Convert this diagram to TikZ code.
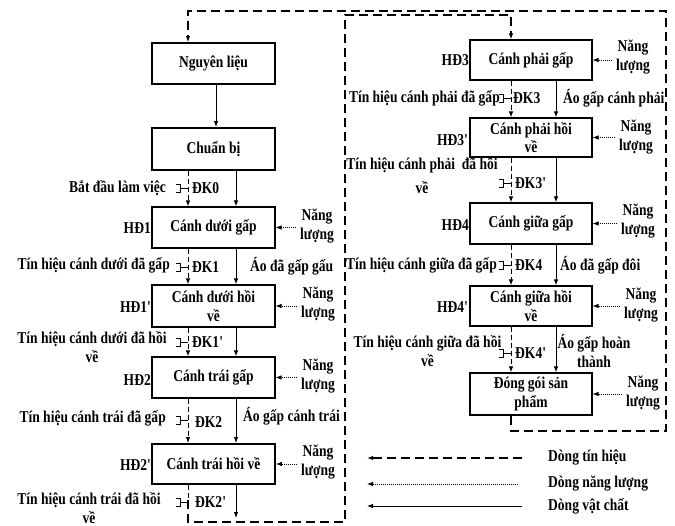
\documentclass[tikz,border=0pt]{standalone}
\usepackage{fontspec}
\setmainfont{Liberation Serif}[FakeStretch=0.82]
\usetikzlibrary{arrows.meta}
\newcommand{\pr}{\textquotesingle}
\tikzset{
  lbl/.style={font=\fontsize{16.5}{18.5}\selectfont\bfseries, inner sep=0pt, align=center},
  box/.style={lbl, draw, line width=1.1pt, minimum width=123pt, minimum height=41pt},
  heavybox/.style={box, line width=1.8pt},
  rbox/.style={box, minimum width=122pt},
  tip/.style={-{Latex[length=6pt,width=4.5pt]}},
  matflow/.style={tip, line width=1pt},
  sigflow/.style={tip, line width=1pt, dash pattern=on 5pt off 3pt},
  loopflow/.style={tip, line width=1.1pt, dash pattern=on 9pt off 5pt},
  enflow/.style={tip, line width=0.8pt, dash pattern=on 1pt off 1pt},
  contact/.pic={\draw[line width=0.9pt] (-12,-4) -- (-8,-4) -- (-8,4) -- (-12,4) (-8,0) -- (0,0);}
}
\begin{document}
\begin{tikzpicture}[x=1pt,y=-1pt]
\path[fill=white] (0,0) rectangle (675,526);

% ---------- left column ----------
\node[heavybox] (nl) at (213.5,63.5) {Nguyên liệu};
\node[heavybox, minimum height=42pt] (cb) at (213.5,149) {Chuẩn bị};
\node[box] (b1) at (213.5,227.5) {Cánh dưới gấp};
\node[box, minimum height=42pt] (b1r) at (213.5,306) {Cánh dưới hồi\\về};
\node[box] (b2) at (213.5,377.5) {Cánh trái gấp};
\node[heavybox, minimum height=40pt] (b2r) at (213.5,464) {Cánh trái hồi về};

% ---------- right column ----------
\node[rbox, minimum height=40pt] (r3) at (531,60) {Cánh phải gấp};
\node[rbox, minimum height=39pt] (r3r) at (531,137.5) {Cánh phải hồi\\về};
\node[rbox] (r4) at (531,223.5) {Cánh giữa gấp};
\node[rbox, minimum height=40pt] (r4r) at (531,306) {Cánh giữa hồi\\về};
\node[rbox, minimum height=42pt] (pk) at (531,394) {Đóng gói sản\\phẩm};

% ---------- step names ----------
\node[lbl, anchor=east] (h1) at (151,228) {HĐ1};
\node[lbl, anchor=east] (h1r) at (152,307) {HĐ1\pr};
\node[lbl, anchor=east] (h2) at (151,380) {HĐ2};
\node[lbl, anchor=east] (h2r) at (152,465) {HĐ2\pr};
\node[lbl, anchor=east] (h3) at (469,60) {HĐ3};
\node[lbl, anchor=east] (h3r) at (469,140) {HĐ3\pr};
\node[lbl, anchor=east] (h4) at (469,225) {HĐ4};
\node[lbl, anchor=east] (h4r) at (469,307) {HĐ4\pr};

% ---------- energy inputs ----------
\node[lbl] (e1) at (317,226) {Năng\\lượng};
\node[lbl] (e1r) at (318,304) {Năng\\lượng};
\node[lbl] (e2) at (318,376) {Năng\\lượng};
\node[lbl] (e2r) at (318,462) {Năng\\lượng};
\node[lbl] (e3) at (633,57) {Năng\\lượng};
\node[lbl] (e3r) at (636,137) {Năng\\lượng};
\node[lbl] (e4) at (638,221) {Năng\\lượng};
\node[lbl] (e4r) at (641,305) {Năng\\lượng};
\node[lbl] (ep) at (643,393) {Năng\\lượng};
\foreach \e/\b in {e1/b1,e1r/b1r,e2/b2,e2r/b2r,e3/r3,e3r/r3r,e4/r4,e4r/r4r,ep/pk}
  \draw[enflow] ([xshift=-4pt]\e.west |- \b.east) -- (\b.east);

% ---------- material flow ----------
\draw[matflow] ([xshift=2.5pt]nl.south) -- ([xshift=2.5pt]cb.north);
\foreach \a/\b in {cb/b1,b1/b1r,b1r/b2,b2/b2r}
  \draw[matflow] ([xshift=22.5pt]\a.south) -- ([xshift=22.5pt]\b.north);
\coordinate (matend) at (236,518);
\draw[matflow] ([xshift=22.5pt]b2r.south) -- (matend);
\foreach \a/\b in {r3/r3r,r3r/r4,r4/r4r,r4r/pk}
  \draw[matflow] ([xshift=25pt]\a.south) -- ([xshift=25pt]\b.north);

\node[lbl, anchor=west] (m1) at (250,266) {Áo đã gấp gấu};
\node[lbl, anchor=west] (m2) at (243,416) {Áo gấp cánh trái};
\node[lbl, anchor=west] (m3) at (563,98) {Áo gấp cánh phải};
\node[lbl, anchor=west] (m4) at (560,265) {Áo đã gấp đôi};
\node[lbl] (m5) at (594,351) {Áo gấp hoàn\\thành};

% ---------- signal flow with contacts ----------
\foreach \a/\b in {cb/b1,b1/b1r,b1r/b2,b2/b2r}
  \draw[sigflow] ([xshift=-25.5pt]\a.south) -- ([xshift=-25.5pt]\b.north);
\foreach \a/\b in {r3/r3r,r3r/r4,r4/r4r,r4r/pk}
  \draw[sigflow] ([xshift=-20pt]\a.south) -- ([xshift=-20pt]\b.north);
\draw[line width=1pt, dash pattern=on 5pt off 3pt] ([xshift=-25.5pt]b2r.south) -- (188,500);

\foreach \y in {188,267,342,420,502} \pic at (188,\y) {contact};
\foreach \y in {98,183,265,353} \pic at (511,\y) {contact};

\node[lbl, anchor=west] (k0) at (192,188) {ĐK0};
\node[lbl, anchor=west] (k1) at (192,267) {ĐK1};
\node[lbl, anchor=west] (k1r) at (192,342) {ĐK1\pr};
\node[lbl, anchor=west] (k2) at (195,422) {ĐK2};
\node[lbl, anchor=west] (k2r) at (195,502) {ĐK2\pr};
\node[lbl, anchor=west] (k3) at (513,98) {ĐK3};
\node[lbl, anchor=west] (k3r) at (515,183) {ĐK3\pr};
\node[lbl, anchor=west] (k4) at (515,265) {ĐK4};
\node[lbl, anchor=west] (k4r) at (515,353) {ĐK4\pr};

\node[lbl, anchor=east] (s0) at (166,188) {Bắt đầu làm việc};
\node[lbl, anchor=east] (s1) at (170,265) {Tín hiệu cánh dưới đã gấp};
\node[lbl] (s1r) at (92,347) {Tín hiệu cánh dưới đã hồi\\[1pt]về};
\node[lbl, anchor=east] (s2) at (166,418) {Tín hiệu cánh trái đã gấp};
\node[lbl] (s2r) at (89,508) {Tín hiệu cánh trái đã hồi\\về};
\node[lbl, anchor=east] (s3) at (500,98) {Tín hiệu cánh phải đã gấp};
\node[lbl] (s3r) at (422,175.5) {Tín hiệu cánh phải\ \ đã hồi\\[6pt]về};
\node[lbl, anchor=east] (s4) at (497,265) {Tín hiệu cánh giữa đã gấp};
\node[lbl] (s4r) at (427.5,351) {Tín hiệu cánh giữa đã hồi\\về};

% ---------- feedback loops ----------
\coordinate (oa) at (511,431);
\coordinate (ob) at (666,431);
\coordinate (oc) at (666,11);
\coordinate (od) at (188,11);
\draw[loopflow] ([xshift=-20pt]pk.south) -- (oa) -- (ob) -- (oc) -- (od) -- ([xshift=-25.5pt]nl.north);

\coordinate (ia) at (188,522);
\coordinate (ib) at (345,522);
\coordinate (ic) at (345,15);
\coordinate (id) at (511,15);
\draw[loopflow] (188,500) -- (ia) -- (ib) -- (ic) -- (id) -- ([xshift=-20pt]r3.north);

% ---------- legend ----------
\node[lbl, anchor=west] (lg1) at (548,458) {Dòng tín hiệu};
\node[lbl, anchor=west] (lg2) at (548,484) {Dòng năng lượng};
\node[lbl, anchor=west] (lg3) at (548,506) {Dòng vật chất};
\coordinate (lt1) at (367,458);
\coordinate (lt2) at (367,484);
\coordinate (lt3) at (367,506);
\draw[loopflow] ([xshift=-26pt]lg1.west) -- (lt1);
\draw[enflow] ([xshift=-30pt]lg2.west) -- (lt2);
\draw[matflow] ([xshift=-26pt]lg3.west) -- (lt3);
\end{tikzpicture}
\end{document}
